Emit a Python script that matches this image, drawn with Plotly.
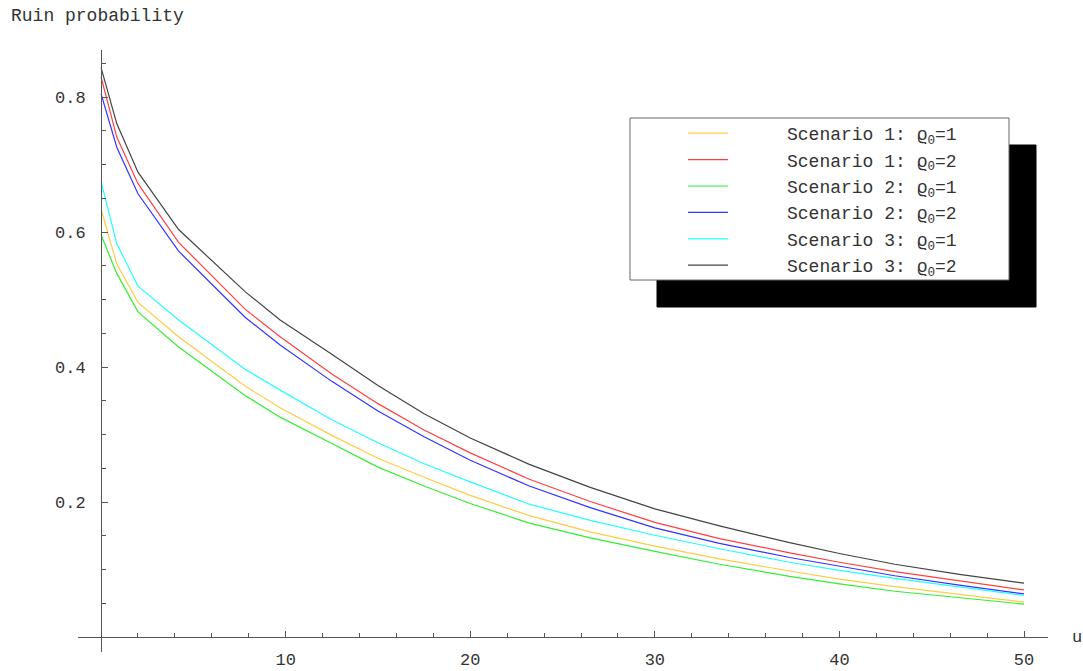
import plotly.graph_objects as go

# ---- data ----
u = [0, 0.85, 2, 4.2, 7.8, 9.7, 12.5, 15, 17.5, 20, 23.2, 26.5, 30, 33.5, 37.3, 40, 43, 46.5, 50]
s1_rho1 = [0.634, 0.553, 0.496, 0.445, 0.372, 0.340, 0.299, 0.265, 0.237, 0.210, 0.180, 0.156, 0.135, 0.116, 0.098, 0.086, 0.075, 0.063, 0.052]
s1_rho2 = [0.830, 0.741, 0.672, 0.585, 0.486, 0.445, 0.390, 0.346, 0.307, 0.273, 0.234, 0.201, 0.170, 0.146, 0.125, 0.111, 0.097, 0.083, 0.070]
s2_rho1 = [0.596, 0.539, 0.482, 0.430, 0.358, 0.326, 0.287, 0.252, 0.224, 0.198, 0.169, 0.147, 0.127, 0.108, 0.090, 0.079, 0.068, 0.058, 0.049]
s2_rho2 = [0.805, 0.726, 0.657, 0.572, 0.474, 0.433, 0.379, 0.335, 0.297, 0.262, 0.224, 0.192, 0.162, 0.139, 0.118, 0.105, 0.091, 0.077, 0.064]
s3_rho1 = [0.675, 0.583, 0.520, 0.470, 0.397, 0.366, 0.322, 0.288, 0.257, 0.230, 0.197, 0.173, 0.151, 0.131, 0.111, 0.099, 0.087, 0.074, 0.062]
s3_rho2 = [0.844, 0.761, 0.689, 0.604, 0.512, 0.470, 0.419, 0.373, 0.331, 0.295, 0.256, 0.222, 0.190, 0.165, 0.140, 0.124, 0.108, 0.093, 0.080]

names = ["Scenario 1: \u03f1<sub>0</sub>=1", "Scenario 1: \u03f1<sub>0</sub>=2",
         "Scenario 2: \u03f1<sub>0</sub>=1", "Scenario 2: \u03f1<sub>0</sub>=2",
         "Scenario 3: \u03f1<sub>0</sub>=1", "Scenario 3: \u03f1<sub>0</sub>=2"]
series = [s1_rho1, s1_rho2, s2_rho1, s2_rho2, s3_rho1, s3_rho2]
colors = ["#FFCC44", "#FF4040", "#33EE33", "#3333FF", "#22FFFF", "#444444"]

x_ticks = [10, 20, 30, 40, 50]
y_ticks = [0.2, 0.4, 0.6, 0.8]

x_range = [-1.25, 51.3]
y_range = [-0.022, 0.87]

FONT = "Liberation Mono"
TXT = "#333333"
AX = "#555555"

fig = go.Figure()
pad = "\u00a0" * 5
for name, ys, c in zip(names, series, colors):
    fig.add_trace(go.Scatter(x=u, y=ys, mode="lines", name=pad + name,
                             line=dict(color=c, width=1.2)))

ypos_x = (0 - x_range[0]) / (x_range[1] - x_range[0])
xpos_y = (0 - y_range[0]) / (y_range[1] - y_range[0])

L, R, T, B = 78, 35, 50, 19
W, H = 1083, 671
pw, ph = W - L - R, H - T - B


def px2paper_x(px):
    return (px - L) / pw


def px2paper_y(py):
    return (H - B - py) / ph


fig.update_layout(
    width=W, height=H,
    margin=dict(l=L, r=R, t=T, b=B, autoexpand=False),
    paper_bgcolor="white", plot_bgcolor="white",
    font=dict(family=FONT, color=TXT, size=17),
    xaxis=dict(range=x_range, anchor="free", position=xpos_y, automargin=False,
               showline=True, linecolor=AX, linewidth=1, mirror=False,
               zeroline=False, showgrid=False,
               tickmode="array", tickvals=x_ticks, ticktext=[str(v) for v in x_ticks],
               ticks="inside", ticklen=6, tickcolor=AX, tickwidth=1,
               minor=dict(tick0=0, dtick=2, ticks="inside", ticklen=4, tickcolor=AX, tickwidth=1),
               tickfont=dict(family=FONT, size=17, color=TXT), ticklabelstandoff=6),
    yaxis=dict(range=y_range, anchor="free", position=ypos_x, automargin=False,
               showline=True, linecolor=AX, linewidth=1,
               zeroline=False, showgrid=False,
               tickmode="array", tickvals=y_ticks, ticktext=[str(v) for v in y_ticks],
               ticks="inside", ticklen=6, tickcolor=AX, tickwidth=1,
               minor=dict(tick0=0, dtick=0.05, ticks="inside", ticklen=4, tickcolor=AX, tickwidth=1),
               tickfont=dict(family=FONT, size=17, color=TXT), ticklabelstandoff=12),
    showlegend=True,
    legend=dict(x=px2paper_x(683), y=px2paper_y(115), xanchor="left", yanchor="top",
                bgcolor="rgba(0,0,0,0)", borderwidth=0,
                font=dict(family=FONT, size=18, color=TXT),
                itemwidth=40, tracegroupgap=0),
    shapes=[
        dict(type="rect", xref="paper", yref="paper",
             x0=px2paper_x(657), x1=px2paper_x(1036), y0=px2paper_y(307), y1=px2paper_y(145),
             fillcolor="black", line=dict(color="black", width=1), layer="above"),
        dict(type="rect", xref="paper", yref="paper",
             x0=px2paper_x(630), x1=px2paper_x(1009), y0=px2paper_y(280), y1=px2paper_y(118),
             fillcolor="white", line=dict(color="#666666", width=1), layer="above"),
    ],
    annotations=[
        dict(text="Ruin probability", xref="paper", yref="paper",
             x=px2paper_x(9), y=px2paper_y(4), xanchor="left", yanchor="top",
             showarrow=False, font=dict(family=FONT, size=18, color=TXT)),
        dict(text="u", xref="paper", yref="paper",
             x=px2paper_x(1070), y=px2paper_y(637), xanchor="left", yanchor="middle",
             showarrow=False, font=dict(family=FONT, size=17, color=TXT)),
    ],
)

fig.write_html("out.html")
